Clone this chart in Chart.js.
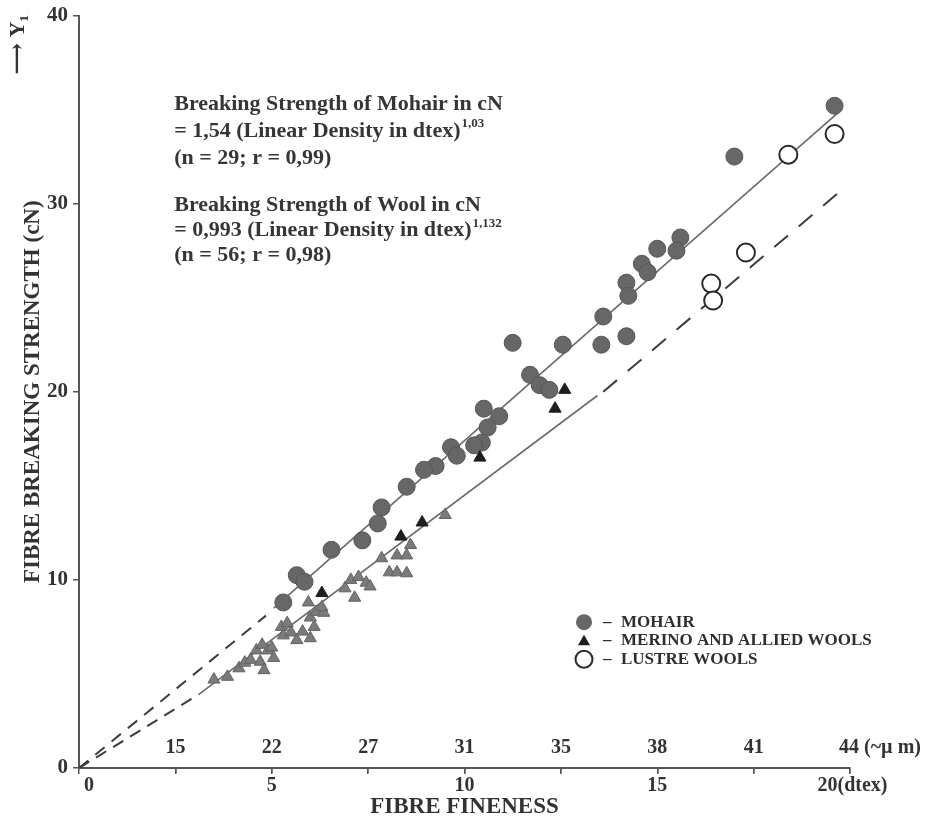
<!DOCTYPE html>
<html>
<head>
<meta charset="utf-8">
<script src="https://cdn.jsdelivr.net/npm/chart.js@4/dist/chart.umd.min.js"></script>
<style>
  html, body { margin: 0; padding: 0; background: #fff; }
</style>
</head>
<body>
<canvas id="fibreChart" width="930" height="821"></canvas>
<script>
// values (x = linear density in dtex, y = breaking strength in cN)
const mohairX = [19.6, 17.0, 15.6, 15.5, 15.0, 14.6, 14.75, 14.2, 14.25, 13.6, 14.2, 13.55, 12.55, 11.25, 11.7, 11.95, 12.2,
  10.5, 10.9, 10.6, 10.45, 10.25, 9.65, 9.8, 9.25, 8.95, 8.5, 7.85, 7.75, 7.35, 6.55, 5.65, 5.85, 5.3];
const mohairY = [35.2, 32.5, 28.2, 27.5, 27.6, 26.8, 26.35, 25.8, 25.1, 24.0, 22.95, 22.5, 22.5, 22.6, 20.9, 20.35, 20.1,
  19.1, 18.7, 18.1, 17.3, 17.15, 17.05, 16.6, 16.05, 15.85, 14.95, 13.85, 13.0, 12.1, 11.6, 10.25, 9.9, 8.8];

const woolX = [3.5, 3.85, 4.15, 4.3, 4.45, 4.6, 4.7, 4.75, 4.8, 4.9, 5.0, 5.05, 5.25, 5.4, 5.3, 5.5, 5.65, 5.8, 6.0, 6.1,
  6.0, 6.15, 6.35, 6.3, 5.95, 6.9, 7.05, 7.25, 7.15, 7.45, 7.55, 7.85, 8.25, 8.5, 8.05, 8.25, 8.5, 8.6, 9.5];
const woolY = [4.7, 4.85, 5.3, 5.6, 5.75, 6.25, 5.65, 6.55, 5.2, 6.25, 6.4, 5.85, 7.5, 7.7, 7.05, 7.2, 6.8, 7.25, 6.9, 7.5,
  8.0, 8.3, 8.25, 8.55, 8.8, 9.55, 10.0, 10.15, 9.05, 9.85, 9.65, 11.15, 11.3, 11.3, 10.4, 10.4, 10.35, 11.85, 13.45];
// the triangles printed in solid black
const woolDarkX = [6.3, 8.35, 8.9, 10.4, 12.35, 12.6];
const woolDarkY = [9.3, 12.3, 13.05, 16.5, 19.1, 20.1];

const lustreX = [18.4, 19.6, 17.3, 16.4, 16.45];
const lustreY = [32.6, 33.7, 27.4, 25.75, 24.85];

// fitted curves as drawn (dashed = extrapolated)
const mohairDashX = [0, 4.85];
const mohairDashY = [0, 8.1];
const mohairFitX = [5.05, 19.7];
const mohairFitY = [8.5, 34.85];
const woolDashX = [0, 3.1];
const woolDashY = [0, 3.9];
const woolFitX = [3.1, 13.45];
const woolFitY = [3.9, 19.8];
const woolExtX = [13.6, 19.8];
const woolExtY = [20.0, 30.75];

// axis ticks
const dtexTicks = [0, 2.5, 5, 7.5, 10, 12.5, 15, 17.5, 20];
const dtexLabels = ['    0', '', '5', '', '10', '', '15', '', ' 20(dtex)'];
const micronTicks = [2.5, 5, 7.5, 10, 12.5, 15, 17.5, 20];
const micronLabels = ['15', '22', '27', '31', '35', '38', '41', '            44 (~\u00b5 m)'];
const strengthTicks = [0, 10, 20, 30, 40];

const legendLabels = ['MOHAIR', 'MERINO AND ALLIED WOOLS', 'LUSTRE WOOLS'];
const mohairNote = ['Breaking Strength of Mohair in cN', '= 1,54 (Linear Density in dtex)', '(n = 29; r = 0,99)'];
const mohairExp = '1,03';
const woolNote = ['Breaking Strength of Wool in cN', '= 0,993 (Linear Density in dtex)', '(n = 56; r = 0,98)'];
const woolExp = '1,132';

const pts = (xs, ys) => xs.map((x, i) => ({ x: x, y: ys[i] }));

const SERIF = '"Liberation Serif", "Times New Roman", "DejaVu Serif", serif';
Chart.defaults.font.family = SERIF;
Chart.defaults.font.weight = 'bold';
Chart.defaults.font.lineHeight = 1;
Chart.defaults.color = '#333';

// equations and key, placed with the chart's own scales
const fibreNotes = {
  id: 'fibreNotes',
  afterDatasetsDraw(chart) {
    const { ctx, scales: { x, y } } = chart;
    ctx.save();
    ctx.fillStyle = '#363636';
    ctx.textBaseline = 'middle';
    ctx.textAlign = 'left';

    const drawNote = (lines, exp, topVal, gap) => {
      const left = x.getPixelForValue(2.47);
      const top = y.getPixelForValue(topVal);
      ctx.font = 'bold 22px ' + SERIF;
      lines.forEach((t, i) => ctx.fillText(t, left, top + i * gap));
      const w = ctx.measureText(lines[1]).width;
      ctx.font = 'bold 13px ' + SERIF;
      ctx.fillText(exp, left + w + 1, top + gap - 7);
    };
    drawNote(mohairNote, mohairExp, 35.3, 27);
    drawNote(woolNote, woolExp, 29.9, 25);

    // key
    const kx = x.getPixelForValue(13.1);
    const ky = y.getPixelForValue(7.75);
    const rowGap = 18.5;
    // mohair dot
    ctx.beginPath();
    ctx.arc(kx, ky, 8, 0, Math.PI * 2);
    ctx.fillStyle = '#676767';
    ctx.fill();
    // triangle
    const ty = ky + rowGap;
    ctx.beginPath();
    ctx.moveTo(kx, ty - 6);
    ctx.lineTo(kx + 6, ty + 4.5);
    ctx.lineTo(kx - 6, ty + 4.5);
    ctx.closePath();
    ctx.fillStyle = '#1e1e1e';
    ctx.fill();
    // open circle
    ctx.beginPath();
    ctx.arc(kx, ky + 2 * rowGap, 8.5, 0, Math.PI * 2);
    ctx.lineWidth = 2;
    ctx.strokeStyle = '#2a2a2a';
    ctx.stroke();

    ctx.fillStyle = '#2e2e2e';
    ctx.font = 'bold 17px ' + SERIF;
    legendLabels.forEach((t, i) => {
      ctx.fillText('\u2013', kx + 19, ky + i * rowGap);
      ctx.fillText(t, kx + 37, ky + i * rowGap);
    });
    ctx.restore();
  }
};

const lineSet = (xs, ys, dash, width) => ({
  type: 'scatter',
  data: pts(xs, ys),
  showLine: true,
  pointRadius: 0,
  borderColor: dash.length ? '#3c3c3c' : '#6a6a6a',
  borderWidth: width,
  borderDash: dash,
  fill: false,
  order: 10
});

new Chart(document.getElementById('fibreChart'), {
  type: 'scatter',
  data: {
    datasets: [
      {
        label: 'MOHAIR',
        data: pts(mohairX, mohairY),
        pointRadius: 8.5,
        backgroundColor: '#676767',
        borderColor: '#565656',
        borderWidth: 1,
        order: 2
      },
      {
        label: 'MERINO AND ALLIED WOOLS',
        data: pts(woolX, woolY),
        pointStyle: 'triangle',
        pointRadius: 7,
        backgroundColor: '#7b7b7b',
        borderColor: '#626262',
        borderWidth: 1,
        order: 2
      },
      {
        label: 'MERINO AND ALLIED WOOLS (dark)',
        data: pts(woolDarkX, woolDarkY),
        pointStyle: 'triangle',
        pointRadius: 7,
        backgroundColor: '#1e1e1e',
        borderColor: '#1e1e1e',
        borderWidth: 1,
        order: 1
      },
      {
        label: 'LUSTRE WOOLS',
        data: pts(lustreX, lustreY),
        pointRadius: 9,
        backgroundColor: '#ffffff',
        borderColor: '#2a2a2a',
        borderWidth: 2,
        order: 1
      },
      lineSet(mohairDashX, mohairDashY, [12, 9], 2),
      lineSet(mohairFitX, mohairFitY, [], 1.6),
      lineSet(woolDashX, woolDashY, [12, 8], 2),
      lineSet(woolFitX, woolFitY, [], 1.6),
      lineSet(woolExtX, woolExtY, [18, 14], 2)
    ]
  },
  options: {
    responsive: false,
    animation: false,
    devicePixelRatio: 1,
    layout: { padding: { left: 7, right: 80, top: 15, bottom: 0 } },
    plugins: {
      legend: { display: false },
      tooltip: { enabled: false },
      title: {
        display: true,
        position: 'left',
        align: 'end',
        text: '\u27f6 Y\u2081',
        font: { size: 22 },
        padding: 0,
        color: '#333'
      }
    },
    scales: {
      x: {
        type: 'linear',
        position: 'bottom',
        min: 0,
        max: 20,
        afterBuildTicks: s => { s.ticks = dtexTicks.map(v => ({ value: v })); },
        ticks: {
          autoSkip: false,
          maxRotation: 0,
          padding: 2,
          font: { size: 20 },
          callback: (v, i) => dtexLabels[i]
        },
        grid: { drawOnChartArea: false, tickLength: 6, color: '#555', lineWidth: 1.5 },
        border: { color: '#555', width: 2 },
        title: { display: true, text: 'FIBRE FINENESS', font: { size: 23 }, padding: { top: -2, bottom: 2 } }
      },
      micron: {
        type: 'linear',
        axis: 'x',
        position: { y: 0 },
        min: 0,
        max: 20,
        afterBuildTicks: s => { s.ticks = micronTicks.map(v => ({ value: v })); },
        ticks: {
          autoSkip: false,
          maxRotation: 0,
          padding: -35,
          font: { size: 20 },
          callback: (v, i) => micronLabels[i]
        },
        grid: { drawOnChartArea: false, tickLength: 5, color: '#555', lineWidth: 1.5 },
        border: { display: false }
      },
      y: {
        type: 'linear',
        min: 0,
        max: 40,
        afterBuildTicks: s => { s.ticks = strengthTicks.map(v => ({ value: v })); },
        ticks: { padding: 5, font: { size: 21 } },
        grid: { drawOnChartArea: false, tickLength: 6, color: '#555', lineWidth: 1.5 },
        border: { color: '#555', width: 2 },
        title: {
          display: true,
          text: 'FIBRE BREAKING STRENGTH (cN)',
          font: { size: 23 },
          padding: { top: -7, bottom: -3 }
        }
      }
    }
  },
  plugins: [fibreNotes]
});
</script>
</body>
</html>
